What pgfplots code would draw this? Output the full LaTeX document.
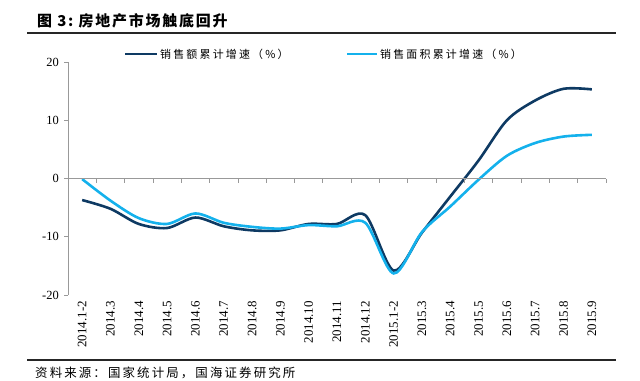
\documentclass[border=0pt]{standalone}
\usepackage{fontspec}
\usepackage{pgfplots}
\pgfplotsset{compat=1.18}
\setmainfont{Liberation Serif}
\newfontfamily\cjk{Noto Sans CJK SC}
\definecolor{darkc}{HTML}{0E3A63}
\definecolor{lightc}{HTML}{14B1EC}
\definecolor{axgray}{HTML}{999999}
\begin{document}
\begin{tikzpicture}[x=1bp,y=1bp]
\path[use as bounding box] (0,0) rectangle (640,380);
% title and rules
\node[anchor=west,inner sep=0] at (37,359) {\fontsize{15}{17}\cjk\bfseries\addfontfeature{LetterSpace=12}图 3:\ 房地产市场触底回升};
\draw[line width=1.5bp,black!85] (27,347) -- (616,347);
\draw[line width=1.3bp,black!85] (27,20) -- (616,20);
\node[anchor=west,inner sep=0] at (35,7) {\fontsize{12.5}{14}\cjk\addfontfeature{LetterSpace=17}资料来源：国家统计局，国海证券研究所};
% legend
\draw[darkc,line width=2.5bp] (125,326) -- (157,326);
\node[anchor=west,inner sep=0] at (160,326) {\fontsize{11}{12}\cjk\addfontfeature{LetterSpace=20}销售额累计增速（\%）};
\draw[lightc,line width=2.5bp] (347,326) -- (377,326);
\node[anchor=west,inner sep=0] at (380,326) {\fontsize{11}{12}\cjk\addfontfeature{LetterSpace=20}销售面积累计增速（\%）};
\begin{axis}[
  at={(68bp,85bp)}, anchor=south west,
  width=538bp, height=233bp, scale only axis,
  xmin=-0.5, xmax=18.5, ymin=-20, ymax=20,
  axis x line*=bottom, axis y line*=left,
  x axis line style={draw=none},
  y axis line style={axgray, line width=0.8bp},
  xtick={0,...,18},
  xticklabels={2014.1-2,2014.3,2014.4,2014.5,2014.6,2014.7,2014.8,2014.9,2014.10,2014.11,2014.12,2015.1-2,2015.3,2015.4,2015.5,2015.6,2015.7,2015.8,2015.9},
  xtick style={draw=none},
  xticklabel style={rotate=90, anchor=east, font=\fontsize{13}{15}\selectfont, inner sep=2bp},
  ytick={-20,-10,0,10,20},
  ytick style={axgray, line width=0.8bp},
  tick align=outside, major tick length=4bp,
  yticklabel style={font=\fontsize{12.5}{14}\selectfont, inner sep=2bp, xshift=-3bp},
  /pgf/number format/assume math mode=true,
  clip=false,
]
\addplot[darkc, line width=2.6bp, smooth, tension=0.5] coordinates {
(0,-3.7) (1,-5.2) (2,-7.8) (3,-8.5) (4,-6.7) (5,-8.2) (6,-8.9) (7,-8.9) (8,-7.8) (9,-7.8) (10,-6.3) (11,-15.8) (12,-9.3) (13,-3.1) (14,3.1) (15,10.0) (16,13.4) (17,15.4) (18,15.3)};
\addplot[lightc, line width=2.6bp, smooth, tension=0.5] coordinates {
(0,-0.1) (1,-3.8) (2,-6.8) (3,-7.8) (4,-6.0) (5,-7.6) (6,-8.3) (7,-8.6) (8,-8.0) (9,-8.2) (10,-7.6) (11,-16.3) (12,-9.2) (13,-4.8) (14,-0.2) (15,3.9) (16,6.1) (17,7.2) (18,7.5)};
\end{axis}
\begin{axis}[
  at={(68bp,85bp)}, anchor=south west,
  width=538bp, height=233bp, scale only axis,
  xmin=-0.5, xmax=18.5, ymin=-20, ymax=20,
  axis x line*=middle, axis y line=none,
  x axis line style={axgray, line width=0.8bp},
  xtick={0.5,1.5,...,18.5}, xticklabels={},
  xtick style={axgray, line width=0.8bp},
  xtick align=outside, major tick length=4bp,
]
\end{axis}
\end{tikzpicture}
\end{document}
